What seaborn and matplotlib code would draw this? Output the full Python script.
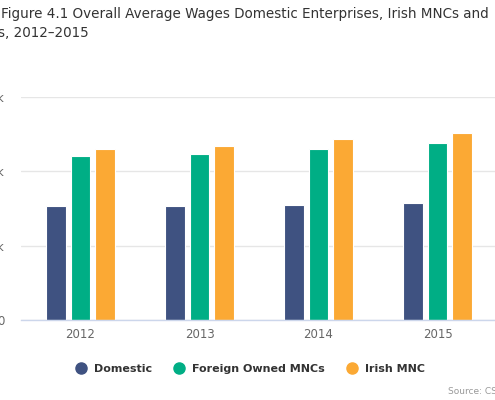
import matplotlib
matplotlib.use("Agg")
import matplotlib.pyplot as plt
from matplotlib.lines import Line2D
import seaborn as sns
import pandas as pd

years = ["2012", "2013", "2014", "2015"]
series = ["Domestic", "Foreign Owned MNCs", "Irish MNC"]
domestic = [30700, 30700, 31000, 31500]
foreign_mnc = [44100, 44700, 46000, 47500]
irish_mnc = [46000, 46900, 48700, 50400]
colors = ["#3f5281", "#00ae85", "#fba934"]
ytick_vals = [0, 20000, 40000, 60000]
ytick_labels = ["0", "20k", "40k", "60k"]

rows = []
for vals, name in zip([domestic, foreign_mnc, irish_mnc], series):
    for y, v in zip(years, vals):
        rows.append({"Year": y, "Series": name, "Wage": v})
df = pd.DataFrame(rows)

sns.set_theme(style="white")
plt.rcParams['font.family'] = ['DejaVu Sans']

W, H = 495, 400
fig = plt.figure(figsize=(W / 100, H / 100), dpi=100)
ax_left, ax_right = 21.0, 497.0
ax_bottom, ax_top = 320, 97
ax = fig.add_axes([ax_left / W, 1 - ax_bottom / H, (ax_right - ax_left) / W, (ax_bottom - ax_top) / H])

sns.barplot(data=df, x="Year", y="Wage", hue="Series", palette=colors, width=0.62, gap=0.2,
            edgecolor="white", linewidth=0.8, saturation=1, ax=ax, legend=False)

ax.set_ylim(0, 60000)
ax.set_xlim(-0.5, 3.5)
ax.set_yticks(ytick_vals)
ax.set_yticklabels(ytick_labels)
ax.yaxis.grid(True, color="#e6e6e6", linewidth=1)
ax.set_axisbelow(True)
for s in ["top", "right", "left"]:
    ax.spines[s].set_visible(False)
ax.spines["bottom"].set_color("#ccd6eb")
ax.spines["bottom"].set_linewidth(1)
ax.tick_params(axis="y", length=0, pad=12, labelsize=8.5, labelcolor="#666666")
ax.tick_params(axis="x", length=0, pad=6, labelsize=8.5, labelcolor="#666666")
ax.set_xlabel("")
ax.set_ylabel("")

fig.text(1 / W, 1 - 14 / H, "Figure 4.1 Overall Average Wages Domestic Enterprises, Irish MNCs and",
         ha="left", va="center", fontsize=9.75, color="#333333")
fig.text(-2 / W, 1 - 33 / H, "s, 2012–2015", ha="left", va="center", fontsize=9.75, color="#333333")

handles = [Line2D([0], [0], marker="o", linestyle="", markersize=8, markerfacecolor=c,
                  markeredgecolor=c) for c in colors]
fig.legend(handles, series, loc="center", bbox_to_anchor=(250 / W, 1 - 369 / H), ncol=3, frameon=False,
           prop={"weight": "bold", "size": 8}, labelcolor="#333333", handletextpad=0.7,
           columnspacing=1.9, handlelength=1.0)

fig.text(448 / W, 1 - 392 / H, "Source: CSO", ha="left", va="center", fontsize=6.5, color="#999999")

fig.savefig("out.png", dpi=100)
